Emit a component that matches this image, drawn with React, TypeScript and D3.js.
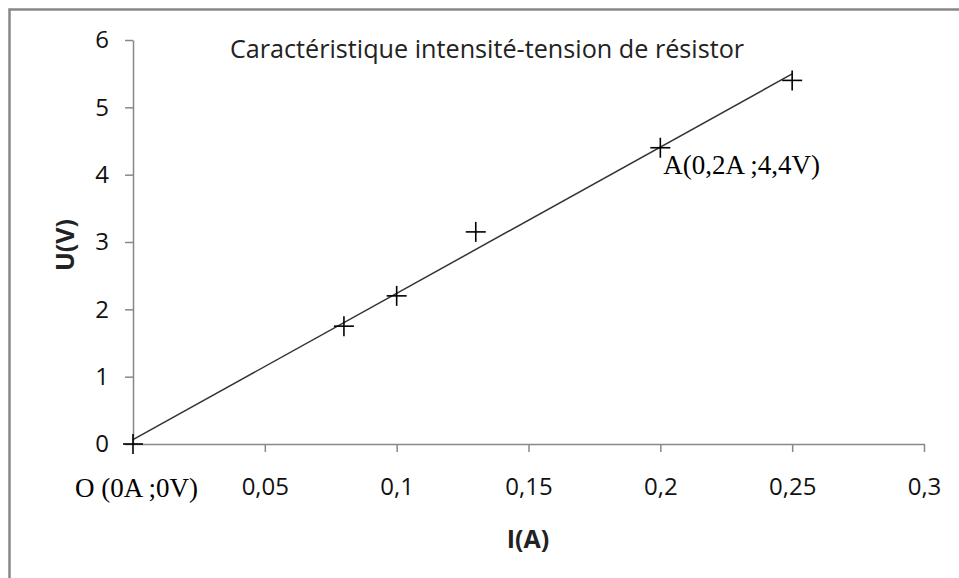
import { useEffect, useRef } from "react";
import * as d3 from "d3";

// mesures I (A) et U (V)
const intensites = [0, 0.08, 0.1, 0.13, 0.2, 0.25];
const tensions = [0, 1.75, 2.2, 3.15, 4.4, 5.4];
const xTicks = [0, 0.05, 0.1, 0.15, 0.2, 0.25, 0.3];
const yTicks = [0, 1, 2, 3, 4, 5, 6];
const title = "Caractéristique intensité-tension de résistor";
const annotations = [
  { i: 0, u: 0, text: "O (0A ;0V)", dx: -58, dy: 53 },
  { i: 0.2, u: 4.4, text: "A(0,2A ;4,4V)", dx: 3, dy: 26 },
];

const width = 959;
const height = 578;
const marginLeft = 133;
const marginRight = 35;
const marginTop = 40;
const marginBottom = 134;

const fmt = (d: number) => String(d).replace(".", ",");

export default function App() {
  const xAxis = useRef<SVGGElement>(null);
  const yAxis = useRef<SVGGElement>(null);

  const x = d3.scaleLinear([0, 0.3], [marginLeft, width - marginRight]);
  const y = d3.scaleLinear([0, 6], [height - marginBottom, marginTop]);

  // droite de tendance (moindres carrés)
  const mx = d3.mean(intensites)!;
  const my = d3.mean(tensions)!;
  const sxy = d3.sum(intensites, (v, k) => (v - mx) * (tensions[k] - my));
  const sxx = d3.sum(intensites, (v) => (v - mx) ** 2);
  const slope = sxy / sxx;
  const b = my - slope * mx;
  const xMax = d3.max(intensites)!;
  const trend = d3
    .line<number>()
    .x((d) => x(d))
    .y((d) => y(slope * d + b));

  useEffect(() => {
    const g = d3
      .select(xAxis.current)
      .attr("transform", `translate(0,${height - marginBottom})`)
      .call(
        d3
          .axisBottom(x)
          .tickValues(xTicks.slice(1))
          .tickFormat((d) => fmt(+d))
          .tickSize(8)
          .tickSizeOuter(0)
          .tickPadding(26)
      );
    g.select(".domain").attr("stroke", "#888").attr("stroke-width", 1.5);
    g.selectAll(".tick line").attr("stroke", "#888").attr("stroke-width", 1.5);
    g.selectAll(".tick text")
      .attr("fill", "#111")
      .attr("font-family", "'Open Sans', sans-serif")
      .attr("font-size", 24);
  }, []);

  useEffect(() => {
    const g = d3
      .select(yAxis.current)
      .attr("transform", `translate(${marginLeft},0)`)
      .call(
        d3
          .axisLeft(y)
          .tickValues(yTicks)
          .tickFormat((d) => fmt(+d))
          .tickSize(8)
          .tickSizeOuter(0)
          .tickPadding(16)
      );
    g.select(".domain").attr("stroke", "#888").attr("stroke-width", 1.5);
    g.selectAll(".tick line").attr("stroke", "#888").attr("stroke-width", 1.5);
    g.selectAll(".tick text")
      .attr("fill", "#111")
      .attr("font-family", "'Open Sans', sans-serif")
      .attr("font-size", 24);
  }, []);

  return (
    <svg
      width={width}
      height={height}
      style={{ position: "absolute", left: 0, top: 0, background: "#fff" }}
    >
      <rect x={9.5} y={9.5} width={1000} height={700} fill="#fff" stroke="#888" strokeWidth={2.5} />
      <text
        x={487}
        y={58}
        textAnchor="middle"
        fontFamily="'Open Sans', sans-serif"
        fontSize={25.2}
        fill="#222"
      >
        {title}
      </text>
      <g ref={xAxis}></g>
      <g ref={yAxis}></g>
      <path
        d={trend([0, xMax]) ?? ""}
        fill="none"
        stroke="#333"
        strokeWidth={1.5}
      />
      <g stroke="#000" strokeWidth={1.6}>
        {intensites.map((d, k) => (
          <g key={k} transform={`translate(${x(d)},${y(tensions[k])})`}>
            <line x1={-10} x2={10} y1={0} y2={0} />
            <line x1={0} x2={0} y1={-10} y2={10} />
          </g>
        ))}
      </g>
      {annotations.map((a, k) => (
        <text
          key={k}
          x={x(a.i) + a.dx}
          y={y(a.u) + a.dy}
          fontFamily="'Liberation Serif', 'Times New Roman', serif"
          fontSize={27}
          fill="#000"
        >
          {a.text}
        </text>
      ))}
      <text
        x={528}
        y={548}
        textAnchor="middle"
        fontFamily="'Open Sans', sans-serif"
        fontWeight="bold"
        fontSize={25}
        fill="#222"
      >
        I(A)
      </text>
      <text
        transform={`translate(74,245) rotate(-90)`}
        textAnchor="middle"
        fontFamily="'Open Sans', sans-serif"
        fontWeight="bold"
        fontSize={25}
        fill="#222"
      >
        U(V)
      </text>
    </svg>
  );
}
